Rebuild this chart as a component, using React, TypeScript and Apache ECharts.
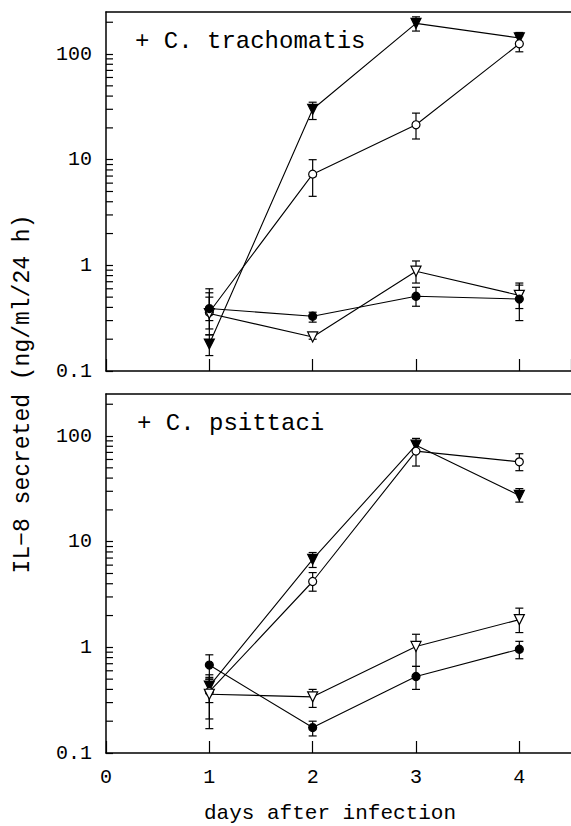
import React, { useEffect, useRef } from "react";
import * as echarts from "echarts";

const days = [1, 2, 3, 4];
const xTickLabels = ["0", "1", "2", "3", "4"];
const yMinorTicks = [0.2, 0.3, 0.4, 0.5, 0.6, 0.7, 0.8, 0.9, 2, 3, 4, 5, 6, 7, 8, 9, 20, 30, 40, 50, 60, 70, 80, 90, 200];

// Panel 1: + C. trachomatis
const trachFilledTri = [0.18, 30, 195, 142];
const trachFilledTriErr = [[0.14, 0.22], [24, 35], [165, 225], [125, 160]];
const trachOpenCircle = [0.36, 7.3, 21.4, 125];
const trachOpenCircleErr = [[0.22, 0.5], [4.5, 10], [15.7, 27.6], [105, 148]];
const trachOpenTri = [0.35, 0.21, 0.88, 0.52];
const trachOpenTriErr = [[0.25, 0.55], [0.2, 0.22], [0.68, 1.1], [0.39, 0.65]];
const trachFilledCircle = [0.39, 0.33, 0.51, 0.48];
const trachFilledCircleErr = [[0.3, 0.6], [0.29, 0.36], [0.41, 0.62], [0.3, 0.68]];

// Panel 2: + C. psittaci
const psitFilledTri = [0.43, 6.8, 82, 27.4];
const psitFilledTriErr = [[0.3, 0.55], [5.7, 7.9], [70, 95], [23.7, 31.8]];
const psitOpenCircle = [0.38, 4.2, 72, 57];
const psitOpenCircleErr = [[0.21, 0.52], [3.4, 5.1], [52, 87], [47, 68]];
const psitOpenTri = [0.36, 0.34, 1.02, 1.83];
const psitOpenTriErr = [[0.17, 0.5], [0.27, 0.4], [0.66, 1.33], [1.38, 2.35]];
const psitFilledCircle = [0.68, 0.174, 0.53, 0.96];
const psitFilledCircleErr = [[0.5, 0.85], [0.145, 0.2], [0.4, 0.66], [0.78, 1.14]];

const panelLabels = ["+ C. trachomatis", "+ C. psittaci"];
const yTitle = "IL\u22128 secreted (ng/ml/24 h)";
const xTitle = "days after infection";

const FONT = "'Liberation Mono', 'DejaVu Sans Mono', monospace";
const INK = "#000";

type Kind = "filledTri" | "openTri" | "filledCircle" | "openCircle";

function lineSeries(name: string, values: number[], kind: Kind, g: number) {
  const tri = kind === "filledTri" || kind === "openTri";
  const filled = kind === "filledTri" || kind === "filledCircle";
  return {
    name,
    type: "line",
    xAxisIndex: g,
    yAxisIndex: g,
    data: values.map((v, i) => [days[i], v]),
    symbol: tri ? "triangle" : "circle",
    symbolRotate: tri ? 180 : 0,
    symbolSize: tri ? 10 : 8,
    showAllSymbol: true,
    lineStyle: { color: INK, width: 1.1 },
    itemStyle: { color: filled ? INK : "#fff", borderColor: INK, borderWidth: 1.2 },
    z: 5,
    silent: true,
  };
}

function errSeries(name: string, errs: number[][], g: number) {
  return {
    name,
    type: "custom",
    xAxisIndex: g,
    yAxisIndex: g,
    data: errs.map((e, i) => [days[i], e[0], e[1]]),
    encode: { x: 0, y: [1, 2] },
    z: 3,
    silent: true,
    renderItem: (params: any, api: any) => {
      const x = api.value(0);
      const lo = api.coord([x, api.value(1)]);
      const hi = api.coord([x, api.value(2)]);
      const w = 4;
      const st = { stroke: INK, lineWidth: 1.2 };
      return {
        type: "group",
        children: [
          { type: "line", shape: { x1: lo[0], y1: lo[1], x2: hi[0], y2: hi[1] }, style: st },
          { type: "line", shape: { x1: lo[0] - w, y1: lo[1], x2: lo[0] + w, y2: lo[1] }, style: st },
          { type: "line", shape: { x1: hi[0] - w, y1: hi[1], x2: hi[0] + w, y2: hi[1] }, style: st },
        ],
      };
    },
  };
}

function minorTickSeries(g: number) {
  return {
    name: "minorTicks" + g,
    type: "custom",
    xAxisIndex: g,
    yAxisIndex: g,
    data: yMinorTicks.map((v) => [0, v]),
    z: 4,
    silent: true,
    renderItem: (params: any, api: any) => {
      const p = api.coord([api.value(0), api.value(1)]);
      return {
        type: "line",
        shape: { x1: p[0], y1: p[1], x2: p[0] + 7, y2: p[1] },
        style: { stroke: INK, lineWidth: 1.2 },
      };
    },
  };
}

export default function App() {
  const ref = useRef<HTMLDivElement>(null);
  useEffect(() => {
    document.body.style.margin = "0";
    if (!ref.current) return;
    const chart = echarts.init(ref.current, undefined, { renderer: "svg" });
    const gridTops = [12, 394];
    const grids = gridTops.map((t) => ({
      left: 106,
      top: t,
      width: 467,
      height: 359,
      show: false,
    }));
    const xAxes: any[] = [0, 1].map((g) => ({
      type: "value",
      gridIndex: g,
      position: "bottom",
      min: 0,
      max: 4.5,
      interval: 1,
      axisLine: { show: true, lineStyle: { color: INK, width: 1.5 } },
      axisTick: { show: true, inside: true, length: 12, lineStyle: { color: INK, width: 1.2 } },
      splitLine: { show: false },
      axisLabel: {
        show: g === 1,
        showMaxLabel: false,
        margin: 14,
        color: INK,
        fontFamily: FONT,
        fontSize: 20,
        formatter: (v: number) => (Number.isInteger(v) ? xTickLabels[v] : ""),
      },
    }));
    // top frame lines of each panel
    [0, 1].forEach((g) =>
      xAxes.push({
        type: "value",
        gridIndex: g,
        position: "top",
        min: 0,
        max: 4.5,
        axisLine: { show: true, lineStyle: { color: INK, width: 1.5 } },
        axisTick: { show: false },
        axisLabel: { show: false },
        splitLine: { show: false },
      })
    );
    const yAxes = [0, 1].map((g) => ({
      type: "log",
      logBase: 10,
      gridIndex: g,
      min: 0.1,
      max: 250,
      axisLine: { show: true, lineStyle: { color: INK, width: 1.5 } },
      axisTick: { show: true, inside: true, length: 7, lineStyle: { color: INK, width: 1.2 } },
      splitLine: { show: false },
      minorTick: { show: false },
      axisLabel: {
        showMaxLabel: false,
        margin: 14,
        color: INK,
        fontFamily: FONT,
        fontSize: 20,
        formatter: (v: number) => (v >= 1 ? String(Math.round(v)) : String(v)),
      },
    }));
    const series: any[] = [
      minorTickSeries(0),
      minorTickSeries(1),
      errSeries("trachFilledTriErr", trachFilledTriErr, 0),
      errSeries("trachOpenCircleErr", trachOpenCircleErr, 0),
      errSeries("trachOpenTriErr", trachOpenTriErr, 0),
      errSeries("trachFilledCircleErr", trachFilledCircleErr, 0),
      lineSeries("trachFilledTri", trachFilledTri, "filledTri", 0),
      lineSeries("trachOpenCircle", trachOpenCircle, "openCircle", 0),
      lineSeries("trachOpenTri", trachOpenTri, "openTri", 0),
      lineSeries("trachFilledCircle", trachFilledCircle, "filledCircle", 0),
      errSeries("psitFilledTriErr", psitFilledTriErr, 1),
      errSeries("psitOpenCircleErr", psitOpenCircleErr, 1),
      errSeries("psitOpenTriErr", psitOpenTriErr, 1),
      errSeries("psitFilledCircleErr", psitFilledCircleErr, 1),
      lineSeries("psitFilledTri", psitFilledTri, "filledTri", 1),
      lineSeries("psitOpenCircle", psitOpenCircle, "openCircle", 1),
      lineSeries("psitOpenTri", psitOpenTri, "openTri", 1),
      lineSeries("psitFilledCircle", psitFilledCircle, "filledCircle", 1),
    ];
    chart.setOption({
      animation: false,
      backgroundColor: "#fff",
      grid: grids,
      xAxis: xAxes,
      yAxis: yAxes,
      series,
      graphic: [
        {
          type: "text",
          left: 135,
          top: 29,
          style: { text: panelLabels[0], font: `24px ${FONT}`, fill: INK },
        },
        {
          type: "text",
          left: 137,
          top: 411,
          style: { text: panelLabels[1], font: `24px ${FONT}`, fill: INK },
        },
        {
          type: "text",
          x: 330,
          y: 813,
          style: { text: xTitle, font: `21px ${FONT}`, fill: INK, align: "center", verticalAlign: "middle" },
        },
        {
          type: "text",
          x: 23,
          y: 394,
          rotation: Math.PI / 2,
          style: { text: yTitle, font: `23px ${FONT}`, fill: INK, align: "center", verticalAlign: "middle" },
        },
      ],
    });
    return () => chart.dispose();
  }, []);
  return (
    <div
      ref={ref}
      style={{ position: "absolute", left: 0, top: 0, width: 571, height: 826, background: "#fff" }}
    />
  );
}
